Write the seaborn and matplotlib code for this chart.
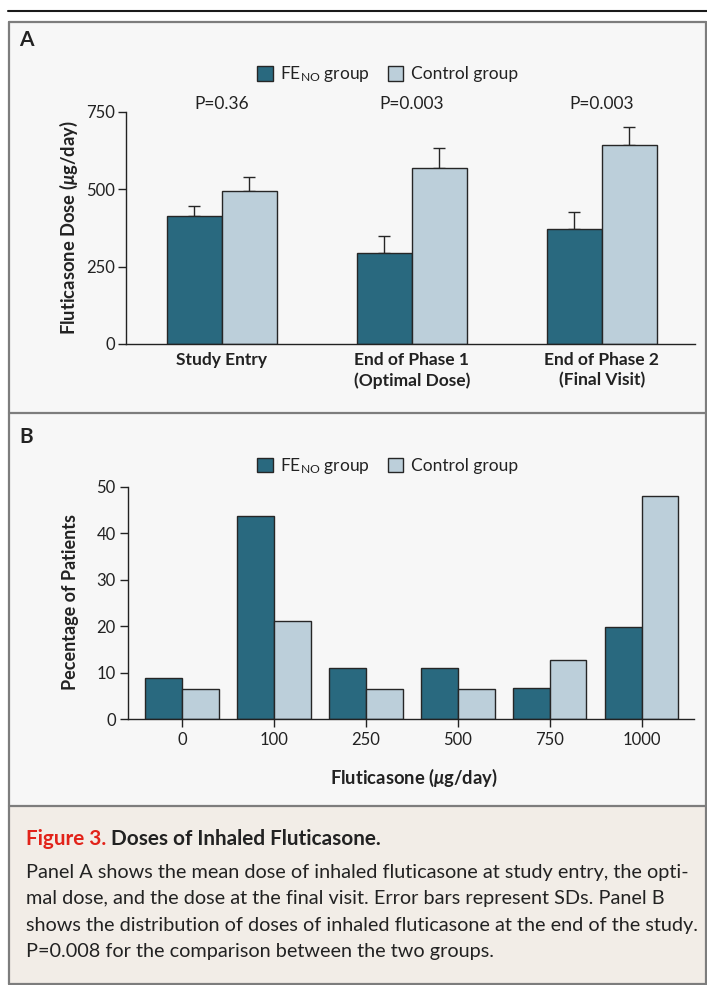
import numpy as np
import pandas as pd
import matplotlib
matplotlib.use("Agg")
import matplotlib.pyplot as plt
import seaborn as sns
from matplotlib.patches import Patch, Rectangle

# panel A: mean dose with SD
stages = ["Study Entry", "End of Phase 1\n(Optimal Dose)", "End of Phase 2\n(Final Visit)"]
feno_mean = [413, 294, 372]
ctrl_mean = [494, 569, 643]
feno_sd = [33, 55, 55]
ctrl_sd = [44, 63, 59]
p_values = ["P=0.36", "P=0.003", "P=0.003"]

# panel B: distribution of doses at end of study
doses = ["0", "100", "250", "500", "750", "1000"]
feno_pct = [8.9, 43.6, 11.1, 11.1, 6.8, 19.8]
ctrl_pct = [6.5, 21.1, 6.5, 6.5, 12.8, 48.1]

group_labels = [r"F$\mathregular{E_{NO}}$ group", "Control group"]

FONT = "Lato"
sns.set_style("ticks")
plt.rcParams["font.family"] = [FONT, "DejaVu Sans"]
plt.rcParams["mathtext.fontset"] = "custom"
plt.rcParams["mathtext.rm"] = FONT
plt.rcParams["mathtext.it"] = FONT + ":italic:bold"
plt.rcParams["mathtext.bf"] = FONT + ":bold"

W, H = 707, 985
dark = "#29697f"
light = "#bccfda"
edge = "#262626"
ink = "#222222"

fig = plt.figure(figsize=(W / 100, H / 100), dpi=100)
fig.patch.set_facecolor("white")
renderer = fig.canvas.get_renderer()

def fit_width(t, target, vertical=False):
    bb = t.get_window_extent(renderer)
    w = bb.height if vertical else bb.width
    t.set_fontsize(t.get_fontsize() * target / w)

# background / frame in pixel coords
bg = fig.add_axes([0, 0, 1, 1], zorder=-10)
bg.set_xlim(0, W)
bg.set_ylim(H, 0)
bg.axis("off")
bg.add_patch(Rectangle((9, 22), W - 9, 784, fc="#f7f7f7", ec="none"))
bg.add_patch(Rectangle((9, 806), W - 9, 178, fc="#f2ede7", ec="none"))
bg.plot([8, W], [11, 11], color="#1a1a1a", lw=1.5)
gray = "#7d7d7d"
bg.plot([9, 9], [22, 984], color=gray, lw=1.6)
bg.plot([706, 706], [22, 984], color=gray, lw=1.6)
for yy in [22, 413, 806, 984]:
    bg.plot([9, 706], [yy, yy], color=gray, lw=1.6)
bg.text(19, 40, "A", fontsize=15, fontweight="bold", va="center", color=ink)
bg.text(19, 437, "B", fontsize=15, fontweight="bold", va="center", color=ink)

def style_axis(ax):
    sns.despine(ax=ax)
    for s in ["left", "bottom"]:
        ax.spines[s].set_color(ink)
        ax.spines[s].set_linewidth(1.0)
    ax.set_facecolor("none")
    ax.set_xlabel("")
    ax.set_ylabel("")

# ---- Panel A
dfa = pd.DataFrame({"stage": stages * 2,
                    "dose": feno_mean + ctrl_mean,
                    "group": ["FeNO"] * 3 + ["Control"] * 3})
axa = fig.add_axes([126 / W, 1 - 344 / H, (695 - 126) / W, (344 - 111.7) / H])
sns.barplot(data=dfa, x="stage", y="dose", hue="group", palette=[dark, light],
            width=0.58, errorbar=None, edgecolor=edge, linewidth=1.0,
            saturation=1, legend=False, ax=axa)
for cont, sd in zip(axa.containers, [feno_sd, ctrl_sd]):
    for bar, s in zip(cont, sd):
        axa.errorbar(bar.get_x() + bar.get_width() / 2, bar.get_height(),
                     yerr=[[0], [s]], fmt="none", ecolor=edge, elinewidth=1.0,
                     capsize=4.5, capthick=1.0, zorder=0.5)
axa.set_xlim(-0.505, 2.49)
axa.set_ylim(0, 750)
axa.set_yticks([0, 250, 500, 750])
style_axis(axa)
axa.tick_params(axis="y", length=6, width=1, color=ink, pad=2, labelsize=12, labelcolor=ink)
axa.tick_params(axis="x", length=0, pad=6, labelsize=12.5, labelcolor=ink)
for lbl in axa.get_xticklabels():
    lbl.set_fontweight("bold")
    lbl.set_linespacing(1.3)
for i, p in enumerate(p_values):
    axa.text(i, 775, p, ha="center", va="center", fontsize=12.5, color=ink, clip_on=False)

yla = fig.text(68.7 / W, 1 - 228 / H, r"Fluticasone Dose ($\mu$g/day)", rotation=90,
               ha="center", va="center", fontsize=12, fontweight="bold", color=ink)
fit_width(yla, 214, vertical=True)

# ---- Panel B
dfb = pd.DataFrame({"dose": doses * 2,
                    "pct": feno_pct + ctrl_pct,
                    "group": ["FeNO"] * 6 + ["Control"] * 6})
axb = fig.add_axes([128.3 / W, 1 - 719.3 / H, (694 - 128.3) / W, (719.3 - 486.7) / H])
sns.barplot(data=dfb, x="dose", y="pct", hue="group", palette=[dark, light],
            width=0.8, errorbar=None, edgecolor=edge, linewidth=1.0,
            saturation=1, legend=False, ax=axb)
axb.set_xlim(-0.584, 5.57)
axb.set_ylim(0, 50)
axb.set_yticks(np.arange(0, 51, 10))
style_axis(axb)
axb.tick_params(axis="both", length=6, width=1, color=ink, pad=3, labelsize=12, labelcolor=ink)

ylb = fig.text(70.5 / W, 1 - 602.5 / H, "Pecentage of Patients", rotation=90,
               ha="center", va="center", fontsize=12, fontweight="bold", color=ink)
fit_width(ylb, 175, vertical=True)
xlb = fig.text(414 / W, 1 - 778 / H, r"Fluticasone ($\mu$g/day)",
               ha="center", va="center", fontsize=12, fontweight="bold", color=ink)
fit_width(xlb, 168)

# legends
handles = [Patch(fc=dark, ec=edge, lw=1.0), Patch(fc=light, ec=edge, lw=1.0)]
for ly in [74.5, 466]:
    leg = fig.legend(handles=handles, labels=group_labels, loc="center",
                     bbox_to_anchor=(387.5 / W, 1 - ly / H), ncol=2, frameon=False,
                     fontsize=12.5, handlelength=0.88, handleheight=0.88,
                     handletextpad=0.45, columnspacing=1.0, borderpad=0)
    for t in leg.get_texts():
        t.set_color(ink)

# caption
red = bg.text(26, 845, "Figure 3.", fontsize=13, fontweight="bold", color="#e2231a", va="baseline")
head = bg.text(0, 845, " Doses of Inhaled Fluticasone.", fontsize=13, fontweight="bold", color=ink, va="baseline")
head.set_x(red.get_window_extent(renderer).x1)
total = head.get_window_extent(renderer).x1 - 26
scale = 356 / total
red.set_fontsize(13 * scale)
head.set_fontsize(13 * scale)
head.set_x(red.get_window_extent(renderer).x1)

body = ["Panel A shows the mean dose of inhaled fluticasone at study entry, the opti-",
        "mal dose, and the dose at the final visit. Error bars represent SDs. Panel B",
        "shows the distribution of doses of inhaled fluticasone at the end of the study.",
        "P=0.008 for the comparison between the two groups."]
lines = []
for k, s in enumerate(body):
    lines.append(bg.text(26, 878 + 26.3 * k, s, fontsize=13, color=ink, va="baseline"))
fit_width(lines[0], 662)
for t in lines[1:]:
    t.set_fontsize(lines[0].get_fontsize())

fig.savefig("out.png", dpi=100)
